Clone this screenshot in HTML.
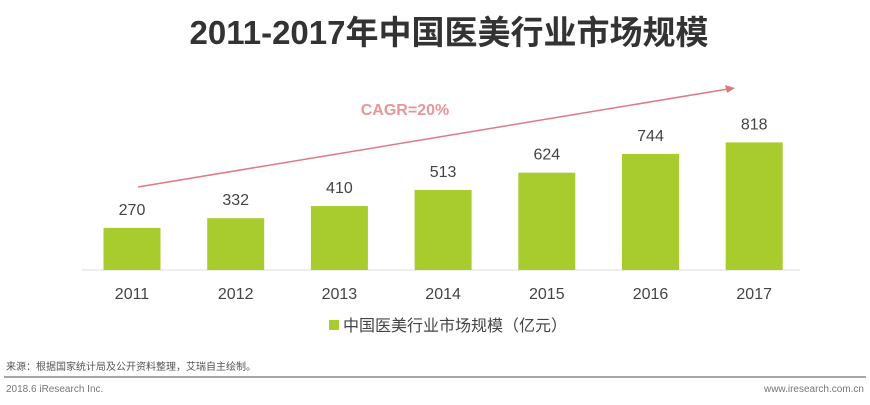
<!DOCTYPE html>
<html><head><meta charset="utf-8"><style>
body{margin:0;background:#fff;font-family:"Liberation Sans","Noto Sans CJK SC",sans-serif}
svg text{font-family:"Liberation Sans","Noto Sans CJK SC",sans-serif}
</style></head><body>
<svg width="870" height="400">
<text x="449" y="44" text-anchor="middle" font-size="33" font-weight="bold" fill="#333">2011-2017年中国医美行业市场规模</text>
<line x1="82" y1="270" x2="800" y2="270" stroke="#ddd" stroke-width="1"/>
<g id="bars"></g>
<line x1="138" y1="187" x2="728" y2="89" stroke="#e07a80" stroke-width="1.5"/>
<polygon points="735,88 725,85 727,93" fill="#e07a80"/>
<text x="405" y="115" text-anchor="middle" font-size="16" font-weight="bold" fill="#e8959a">CAGR=20%</text>
<rect x="329" y="320" width="10" height="10" fill="#a8cc2e"/>
<text x="343" y="331" font-size="16" fill="#444">中国医美行业市场规模（亿元）</text>
<text x="6" y="370" font-size="10" fill="#555">来源：根据国家统计局及公开资料整理，艾瑞自主绘制。</text>
<line x1="4" y1="377" x2="866" y2="377" stroke="#888" stroke-width="1.5"/>
<text x="6" y="392" font-size="10" fill="#777">2018.6 iResearch Inc.</text>
<text x="864" y="392" text-anchor="end" font-size="10" fill="#777">www.iresearch.com.cn</text>
</svg>
<script>
const categories=["2011","2012","2013","2014","2015","2016","2017"];
const values=[270,332,410,513,624,744,818];
const baseY=270, pxPerUnit=0.156, x0=132, step=103.7, bw=57;
const g=document.getElementById('bars');
const NS="http://www.w3.org/2000/svg";
const xs=i=>x0+i*step, ys=v=>baseY-v*pxPerUnit;
categories.forEach((c,i)=>{
  const v=values[i];
  const r=document.createElementNS(NS,'rect');
  r.setAttribute('x',xs(i)-bw/2);r.setAttribute('y',ys(v));
  r.setAttribute('width',bw);r.setAttribute('height',baseY-ys(v));
  r.setAttribute('fill','#a8cc2e');
  
  
  g.appendChild(r);
  const t=document.createElementNS(NS,'text');
  t.setAttribute('x',xs(i));t.setAttribute('y',ys(v)-13);
  t.setAttribute('text-anchor','middle');t.setAttribute('font-size','16');t.setAttribute('fill','#444');
  t.textContent=v;
  
  
  g.appendChild(t);
  const l=document.createElementNS(NS,'text');
  l.setAttribute('x',xs(i));l.setAttribute('y',299);
  l.setAttribute('text-anchor','middle');l.setAttribute('font-size','16');l.setAttribute('fill','#444');
  l.textContent=c;
  
  
  g.appendChild(l);
});
</script>
</body></html>
